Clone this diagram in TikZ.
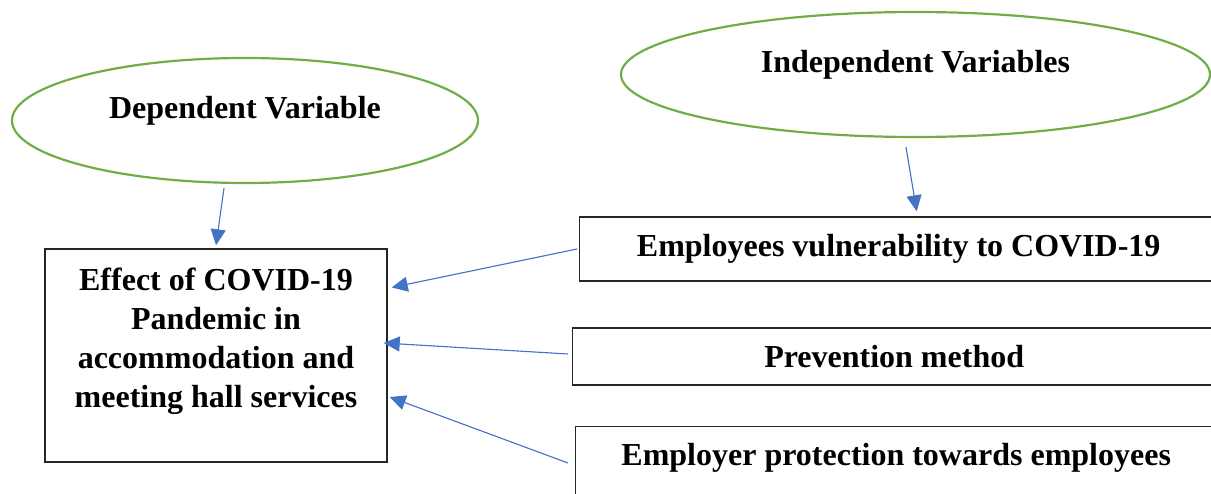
\documentclass[tikz,border=0pt]{standalone}
\usepackage{fontspec}
\setmainfont{Liberation Serif}
\usepackage{tikz}
\usetikzlibrary{shapes.geometric, arrows.meta}

\definecolor{ovalgreen}{HTML}{70AD47}
\definecolor{arrowblue}{HTML}{4472C4}

\begin{document}
\begin{tikzpicture}[
  x=1pt, y=-1pt,
  txt/.style={font=\fontsize{32}{39.3}\selectfont\bfseries},
  oval/.style={ellipse, draw=ovalgreen, line width=2.2pt, txt, inner sep=0pt, minimum height=125pt, text height=22pt, text depth=25pt},
  block/.style={rectangle, draw=black!85, line width=1.4pt, txt},
  arrow/.style={-{Triangle[length=16pt, width=15pt]}, draw=arrowblue, fill=arrowblue, line width=1.1pt}
]
\useasboundingbox (0,0) rectangle (1211,494);

\node[oval, minimum width=466pt] (dep) at (245,120.5) {Dependent Variable};
\node[oval, minimum width=589pt] (indep) at (915.5,74.5) {Independent Variables};

\node[block, align=center, minimum width=342pt, minimum height=213pt, text height=140pt, text depth=35pt] (effect) at (216,355.5)
  {Effect of COVID-19\\Pandemic in\\accommodation and\\meeting hall services};

% right column, cut off by the page edge
\node[block, anchor=west, minimum width=638pt, minimum height=64pt] (vuln) at (579,249) {Employees vulnerability to COVID-19};
\node[block, anchor=west, minimum width=643pt, minimum height=57pt] (prev) at (572,356.5) {Prevention method};
\node[block, anchor=north west, minimum width=641pt, minimum height=74pt, text depth=18pt] (protect) at (575,426) {Employer protection towards employees};

\draw[arrow] ([xshift=-21pt, yshift=-4pt]dep.south) -- ([yshift=3pt]effect.north);
\draw[arrow] ([xshift=-9.5pt, yshift=-9pt]indep.south) -- ([xshift=18pt, yshift=5pt]vuln.north);
\draw[arrow] ([xshift=-2pt]vuln.west) -- ([xshift=4pt, yshift=68pt]effect.east);
\draw[arrow] ([xshift=-4pt, yshift=2.5pt]prev.west) -- ([xshift=-4pt, yshift=12.5pt]effect.east);
\draw[arrow] ([xshift=-7pt, yshift=-37pt]protect.north west) -- ([xshift=2pt, yshift=-41.5pt]effect.east);

\end{tikzpicture}
\end{document}
